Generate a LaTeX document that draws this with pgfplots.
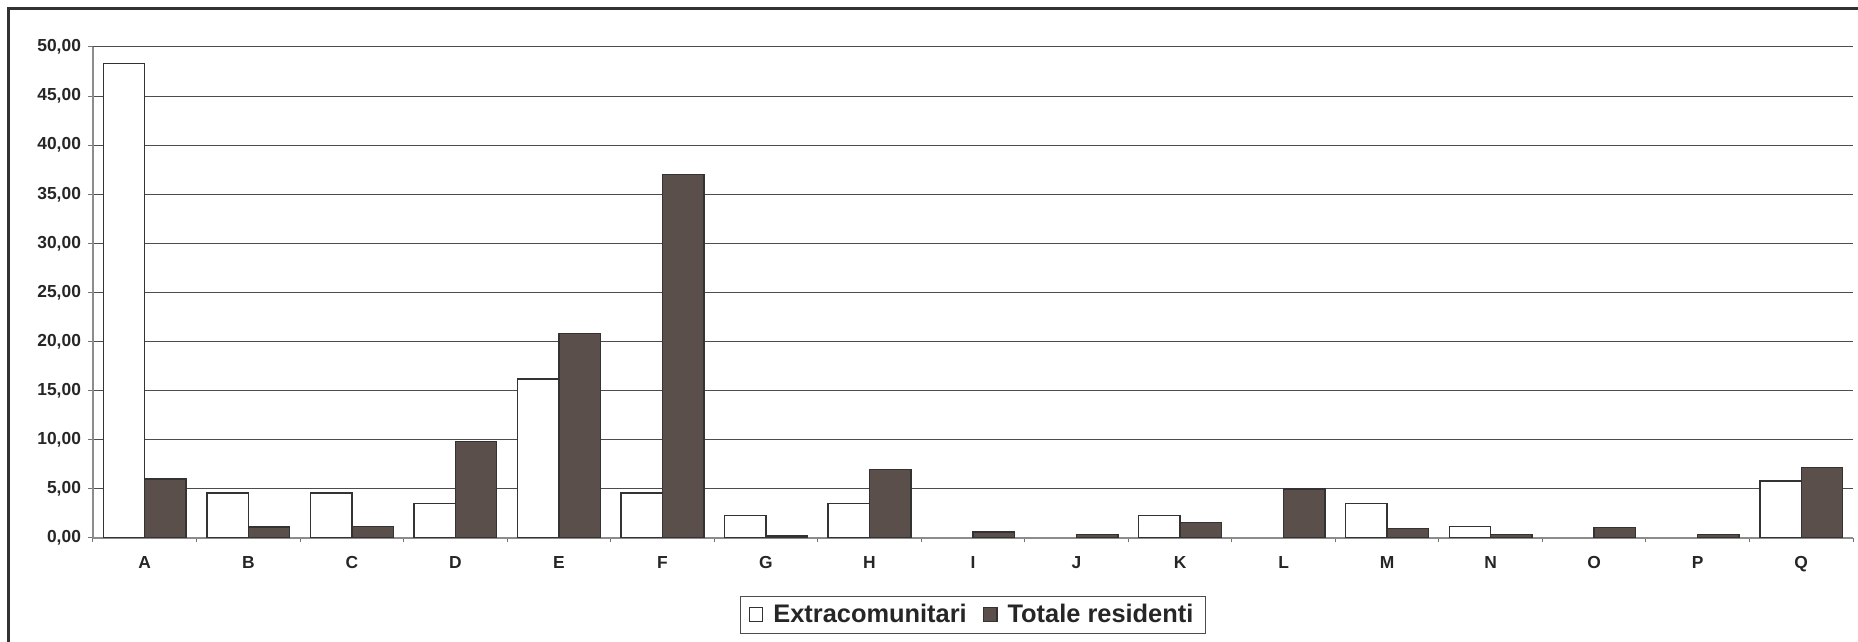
\documentclass[border=0pt]{standalone}
\usepackage{pgfplots}
\pgfplotsset{compat=1.18}
\usepackage{fontspec}
\setmainfont{Liberation Sans}
\definecolor{darkbar}{RGB}{90,79,75}
\definecolor{framec}{RGB}{50,50,52}

\begin{document}
\begin{tikzpicture}
\useasboundingbox (0,0) rectangle (929pt,321pt);
\draw[framec, line width=1.5pt] (4.35pt,-20pt) rectangle (960pt,316.5pt);
\begin{axis}[
  at={(46.5pt,52pt)}, anchor=south west, scale only axis,
  width=880pt, height=245.5pt,
  ybar, bar width=0.4,
  xmin=-0.5, xmax=16.5, ymin=0, ymax=50,
  xtick={0,...,16},
  xticklabels={A,B,C,D,E,F,G,H,I,J,K,L,M,N,O,P,Q},
  major x tick style={draw=none},
  minor xtick={-0.5,0.5,...,16.5},
  minor tick length=2pt,
  major tick length=2.5pt,
  tick align=outside,
  ytick={0,5,...,50},
  scaled y ticks=false,
  axis x line*=bottom, axis y line*=left,
  axis line style={black!45, -, line width=0.6pt},
  every tick/.style={black!55, line width=0.5pt},
  ymajorgrids,
  major grid style={black!70, line width=0.5pt},
  /pgf/number format/assume math mode=true,
  yticklabel style={/pgf/number format/.cd, fixed, fixed zerofill, precision=2, use comma},
  tick label style={font=\bfseries\fontsize{8.7}{10}\selectfont, text=black!85},
  xticklabel style={yshift=-3pt},
  legend style={at={(0.5,-0.157)}, anchor=center, draw=black!70, line width=0.5pt,
    font=\bfseries\fontsize{12.7}{14}\selectfont, text=black!85,
    legend columns=2, inner xsep=4pt, inner ysep=2pt,
    /tikz/every odd column/.append style={column sep=3pt},
    /tikz/every even column/.append style={column sep=6pt}},
  legend image code/.code={\draw[#1, line width=0.6pt] (0pt,-3.2pt) rectangle (6.8pt,3.6pt);},
]
% Extracomunitari: I, J, L, O, P are 0 (no visible bar)
\addplot[fill=white, draw=black!80, line width=0.7pt, bar shift=-0.2] coordinates {
(0,48.3) (1,4.6) (2,4.6) (3,3.5) (4,16.2) (5,4.6) (6,2.3) (7,3.5)
(10,2.3) (12,3.5) (13,1.2) (16,5.8)};
\addplot[fill=darkbar, draw=black!80, line width=0.7pt, bar shift=0.2] coordinates {
(0,6.0) (1,1.1) (2,1.2) (3,9.8) (4,20.8) (5,37.0) (6,0.2) (7,7.0) (8,0.6) (9,0.35)
(10,1.55) (11,5.0) (12,0.95) (13,0.33) (14,1.05) (15,0.33) (16,7.15)};
\legend{Extracomunitari, Totale residenti}
\end{axis}
\end{tikzpicture}
\end{document}
